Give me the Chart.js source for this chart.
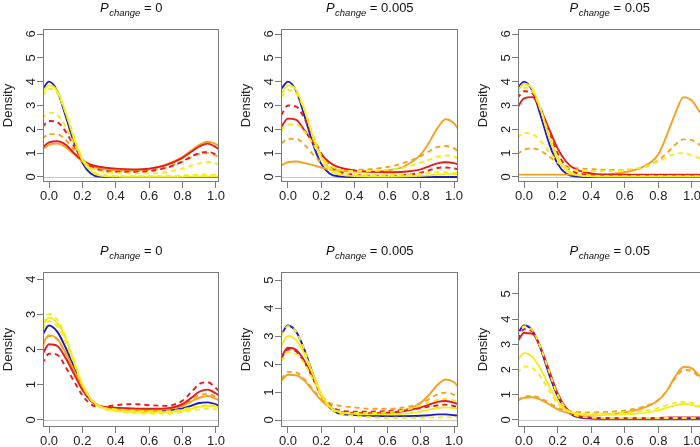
<!DOCTYPE html>
<html lang="en">
<head>
<meta charset="UTF-8">
<title>Density by P change</title>
<script src="https://cdn.jsdelivr.net/npm/chart.js"></script>
<style>
    body {
        margin: 0;
        width: 700px;
        height: 447px;
        overflow: hidden;
        position: relative;
        background: #fff;
    }
    canvas.panel {
        position: absolute;
    }
</style>
</head>
<body>

<canvas id="c1" class="panel"></canvas>
<canvas id="c2" class="panel"></canvas>
<canvas id="c3" class="panel"></canvas>
<canvas id="c4" class="panel"></canvas>
<canvas id="c5" class="panel"></canvas>
<canvas id="c6" class="panel"></canvas>

<script>
// shared x grid of the density curves
const xs = [-0.04, 0, 0.05, 0.1, 0.15, 0.2, 0.25, 0.3, 0.4, 0.5, 0.6, 0.7, 0.8, 0.85, 0.9, 0.95, 1.0, 1.04, 1.08];
const xTicks = [0, 0.2, 0.4, 0.6, 0.8, 1.0];
const pChange = ['0', '0.005', '0.05', '0', '0.005', '0.05'];

// top row, P = 0
const p1Blue        = [3.65, 4.0, 3.6, 2.55, 1.45, 0.6, 0.15, 0.02, 0, 0, 0, 0, 0, 0, 0, 0, 0, 0, 0];
const p1Yellow      = [3.55, 3.85, 3.6, 2.7, 1.6, 0.7, 0.25, 0.07, 0.02, 0.01, 0.01, 0.01, 0.01, 0.02, 0.02, 0.02, 0.02, 0.02, 0.02];
const p1YellowDash  = [3.4, 3.7, 3.5, 2.7, 1.7, 0.8, 0.3, 0.12, 0.05, 0.03, 0.03, 0.04, 0.06, 0.08, 0.1, 0.1, 0.09, 0.07, 0.05];
const p1YellowDash2 = [2.45, 2.7, 2.6, 2.1, 1.4, 0.75, 0.4, 0.25, 0.17, 0.15, 0.15, 0.2, 0.35, 0.47, 0.57, 0.62, 0.57, 0.48, 0.4];
const p1Orange      = [1.15, 1.35, 1.4, 1.25, 0.95, 0.65, 0.45, 0.36, 0.28, 0.27, 0.33, 0.52, 0.85, 1.1, 1.35, 1.48, 1.38, 1.15, 0.95];
const p1OrangeDash  = [1.6, 1.8, 1.8, 1.55, 1.15, 0.72, 0.48, 0.35, 0.27, 0.24, 0.28, 0.4, 0.65, 0.82, 0.97, 1.0, 0.9, 0.75, 0.6];
const p1Red         = [1.22, 1.45, 1.5, 1.35, 1.0, 0.7, 0.52, 0.43, 0.35, 0.32, 0.35, 0.5, 0.8, 1.05, 1.28, 1.4, 1.25, 1.05, 0.85];
const p1RedDash     = [2.1, 2.35, 2.3, 1.9, 1.3, 0.75, 0.45, 0.3, 0.22, 0.22, 0.25, 0.38, 0.65, 0.85, 1.0, 1.05, 0.95, 0.8, 0.65];

// top row, P = 0.005
const p2Blue        = [3.7, 4.0, 3.6, 2.55, 1.4, 0.55, 0.15, 0.03, 0, 0, 0, 0, 0, 0, 0, 0, 0, 0, 0];
const p2Yellow      = [3.5, 3.85, 3.65, 2.8, 1.7, 0.8, 0.3, 0.12, 0.04, 0.02, 0.02, 0.03, 0.05, 0.07, 0.1, 0.12, 0.12, 0.1, 0.08];
const p2YellowDash  = [3.35, 3.65, 3.5, 2.8, 1.8, 0.9, 0.42, 0.22, 0.12, 0.08, 0.08, 0.1, 0.14, 0.18, 0.2, 0.2, 0.17, 0.14, 0.1];
const p2YellowDash2 = [1.95, 2.2, 2.2, 1.9, 1.4, 0.85, 0.5, 0.33, 0.25, 0.25, 0.3, 0.4, 0.6, 0.72, 0.85, 0.9, 0.85, 0.72, 0.6];
const p2Orange      = [0.5, 0.62, 0.65, 0.58, 0.5, 0.4, 0.32, 0.27, 0.23, 0.22, 0.27, 0.45, 0.95, 1.45, 2.05, 2.42, 2.25, 1.85, 1.5];
const p2OrangeDash  = [1.4, 1.6, 1.6, 1.35, 0.95, 0.62, 0.42, 0.33, 0.3, 0.33, 0.42, 0.6, 0.88, 1.08, 1.25, 1.3, 1.2, 1.0, 0.85];
const p2Red         = [2.1, 2.45, 2.4, 1.95, 1.45, 0.95, 0.62, 0.42, 0.28, 0.22, 0.2, 0.22, 0.32, 0.45, 0.57, 0.62, 0.58, 0.5, 0.4];
const p2RedDash     = [2.6, 3.0, 2.95, 2.45, 1.7, 1.0, 0.5, 0.25, 0.1, 0.05, 0.05, 0.08, 0.18, 0.28, 0.38, 0.4, 0.36, 0.3, 0.25];

// top row, P = 0.05
const p3Blue        = [3.7, 4.0, 3.6, 2.55, 1.4, 0.55, 0.15, 0.03, 0, 0, 0, 0, 0, 0, 0, 0, 0, 0, 0];
const p3Yellow      = [3.6, 3.9, 3.7, 2.8, 1.65, 0.75, 0.28, 0.1, 0.03, 0.02, 0.02, 0.02, 0.02, 0.02, 0.02, 0.02, 0.02, 0.02, 0.02];
const p3YellowDash  = [3.45, 3.75, 3.6, 2.8, 1.75, 0.85, 0.35, 0.15, 0.06, 0.04, 0.04, 0.04, 0.04, 0.04, 0.04, 0.04, 0.04, 0.04, 0.04];
const p3YellowDash2 = [1.65, 1.85, 1.8, 1.5, 1.05, 0.65, 0.4, 0.3, 0.25, 0.25, 0.3, 0.4, 0.65, 0.82, 0.97, 1.0, 0.9, 0.8, 0.68];
const p3Orange      = [0.1, 0.1, 0.1, 0.1, 0.1, 0.1, 0.1, 0.1, 0.1, 0.12, 0.2, 0.4, 0.95, 1.75, 2.65, 3.35, 3.2, 2.8, 2.4];
const p3OrangeDash  = [0.95, 1.15, 1.2, 1.1, 0.85, 0.6, 0.45, 0.38, 0.33, 0.3, 0.3, 0.38, 0.7, 1.0, 1.35, 1.58, 1.55, 1.38, 1.2];
const p3Red         = [2.9, 3.3, 3.35, 2.8, 2.0, 1.2, 0.65, 0.35, 0.15, 0.1, 0.1, 0.1, 0.1, 0.1, 0.1, 0.1, 0.1, 0.1, 0.1];
const p3RedDash     = [3.3, 3.6, 3.5, 2.85, 1.9, 1.0, 0.45, 0.2, 0.08, 0.05, 0.04, 0.04, 0.04, 0.04, 0.04, 0.04, 0.04, 0.04, 0.04];

// bottom row, P = 0
const p4Blue        = [2.4, 2.68, 2.5, 2.05, 1.5, 0.95, 0.58, 0.4, 0.3, 0.27, 0.26, 0.27, 0.33, 0.4, 0.48, 0.5, 0.44, 0.36, 0.3];
const p4Yellow      = [2.65, 2.9, 2.75, 2.3, 1.65, 1.0, 0.6, 0.4, 0.27, 0.23, 0.22, 0.22, 0.27, 0.32, 0.37, 0.4, 0.37, 0.32, 0.27];
const p4YellowDash  = [2.75, 3.0, 2.85, 2.35, 1.7, 1.02, 0.6, 0.38, 0.25, 0.2, 0.18, 0.18, 0.22, 0.26, 0.3, 0.32, 0.3, 0.27, 0.23];
const p4YellowDash2 = [2.55, 2.8, 2.65, 2.2, 1.6, 0.98, 0.58, 0.38, 0.3, 0.26, 0.25, 0.25, 0.3, 0.35, 0.4, 0.42, 0.4, 0.35, 0.3];
const p4Orange      = [2.15, 2.4, 2.3, 1.9, 1.4, 0.9, 0.56, 0.4, 0.3, 0.28, 0.28, 0.3, 0.4, 0.52, 0.63, 0.68, 0.6, 0.5, 0.42];
const p4OrangeDash  = [2.1, 2.38, 2.28, 1.88, 1.38, 0.88, 0.55, 0.4, 0.33, 0.3, 0.3, 0.32, 0.45, 0.58, 0.7, 0.74, 0.66, 0.55, 0.45];
const p4Red         = [1.85, 2.15, 2.1, 1.75, 1.3, 0.85, 0.55, 0.4, 0.35, 0.33, 0.32, 0.33, 0.45, 0.62, 0.8, 0.86, 0.75, 0.62, 0.5];
const p4RedDash     = [1.6, 1.88, 1.85, 1.5, 1.1, 0.7, 0.45, 0.36, 0.42, 0.45, 0.42, 0.4, 0.55, 0.78, 1.02, 1.07, 0.9, 0.72, 0.58];

// bottom row, P = 0.005
const p5Blue        = [3.05, 3.38, 3.15, 2.5, 1.65, 0.9, 0.45, 0.25, 0.18, 0.15, 0.14, 0.14, 0.15, 0.17, 0.2, 0.2, 0.17, 0.15, 0.12];
const p5Yellow      = [2.65, 3.0, 2.85, 2.35, 1.65, 0.95, 0.5, 0.3, 0.22, 0.2, 0.2, 0.22, 0.3, 0.37, 0.43, 0.45, 0.42, 0.36, 0.3];
const p5YellowDash  = [2.1, 2.42, 2.35, 2.0, 1.45, 0.88, 0.5, 0.32, 0.25, 0.25, 0.28, 0.35, 0.52, 0.63, 0.72, 0.75, 0.7, 0.6, 0.5];
const p5YellowDash2 = [3.0, 3.35, 3.15, 2.5, 1.65, 0.9, 0.45, 0.25, 0.15, 0.1, 0.08, 0.08, 0.08, 0.09, 0.1, 0.1, 0.09, 0.08, 0.07];
const p5Orange      = [1.4, 1.62, 1.6, 1.4, 1.05, 0.7, 0.45, 0.32, 0.25, 0.23, 0.25, 0.35, 0.62, 0.9, 1.25, 1.45, 1.35, 1.08, 0.85];
const p5OrangeDash  = [1.45, 1.72, 1.7, 1.45, 1.1, 0.75, 0.6, 0.52, 0.45, 0.4, 0.4, 0.45, 0.6, 0.75, 0.92, 0.98, 0.9, 0.75, 0.6];
const p5Red         = [2.25, 2.58, 2.5, 2.1, 1.5, 0.88, 0.5, 0.3, 0.24, 0.24, 0.26, 0.32, 0.45, 0.55, 0.65, 0.68, 0.62, 0.52, 0.42];
const p5RedDash     = [2.2, 2.52, 2.45, 2.05, 1.5, 0.92, 0.55, 0.36, 0.3, 0.3, 0.32, 0.36, 0.42, 0.48, 0.52, 0.55, 0.5, 0.42, 0.35];

// bottom row, P = 0.05
const p6Blue        = [3.4, 3.75, 3.55, 2.8, 1.8, 0.95, 0.4, 0.15, 0.06, 0.05, 0.05, 0.05, 0.05, 0.05, 0.05, 0.05, 0.05, 0.05, 0.05];
const p6Yellow      = [2.35, 2.65, 2.5, 2.0, 1.35, 0.75, 0.4, 0.25, 0.2, 0.2, 0.22, 0.27, 0.38, 0.48, 0.58, 0.63, 0.6, 0.52, 0.45];
const p6YellowDash  = [3.35, 3.72, 3.55, 2.85, 1.9, 1.0, 0.45, 0.2, 0.1, 0.08, 0.08, 0.08, 0.08, 0.08, 0.08, 0.08, 0.08, 0.08, 0.08];
const p6YellowDash2 = [1.85, 2.12, 2.05, 1.7, 1.15, 0.65, 0.38, 0.28, 0.25, 0.25, 0.28, 0.35, 0.48, 0.58, 0.68, 0.72, 0.68, 0.58, 0.48];
const p6Orange      = [0.75, 0.88, 0.9, 0.8, 0.62, 0.42, 0.3, 0.22, 0.2, 0.22, 0.3, 0.45, 0.78, 1.15, 1.72, 2.1, 2.05, 1.78, 1.5];
const p6OrangeDash  = [0.78, 0.92, 0.95, 0.85, 0.68, 0.48, 0.38, 0.32, 0.3, 0.32, 0.38, 0.5, 0.8, 1.15, 1.65, 1.98, 1.95, 1.7, 1.45];
const p6Red         = [3.1, 3.45, 3.42, 2.85, 1.95, 1.05, 0.48, 0.2, 0.1, 0.08, 0.07, 0.07, 0.08, 0.09, 0.1, 0.1, 0.1, 0.1, 0.1];
const p6RedDash     = [3.2, 3.6, 3.5, 2.85, 1.9, 1.0, 0.45, 0.18, 0.08, 0.06, 0.05, 0.05, 0.05, 0.06, 0.06, 0.06, 0.06, 0.06, 0.06];

const panelSeries = [
    [p1YellowDash, p1Yellow, p1YellowDash2, p1Red, p1RedDash, p1Orange, p1OrangeDash, p1Blue],
    [p2YellowDash, p2Yellow, p2YellowDash2, p2Red, p2RedDash, p2Orange, p2OrangeDash, p2Blue],
    [p3YellowDash, p3Yellow, p3YellowDash2, p3Red, p3RedDash, p3Orange, p3OrangeDash, p3Blue],
    [p4YellowDash, p4Yellow, p4YellowDash2, p4Red, p4RedDash, p4Orange, p4OrangeDash, p4Blue],
    [p5YellowDash, p5Yellow, p5YellowDash2, p5Red, p5RedDash, p5Orange, p5OrangeDash, p5Blue],
    [p6YellowDash, p6Yellow, p6YellowDash2, p6Red, p6RedDash, p6Orange, p6OrangeDash, p6Blue]
];

// line styles, same order as the series above
const lineColors = ['#f4ec1c', '#f4ec1c', '#f4ec1c', '#e61b1b', '#e61b1b', '#f5a222', '#f5a222', '#1c1cc4'];
const lineDashed = [true, false, true, false, true, false, true, false];

// plot boxes in page pixels, and the axis ranges of each panel
const boxes = [
    { left: 43,  right: 219, top: 29,  bottom: 182, xmin: -0.036, xmax: 1.018, ymin: -0.21, ymax: 6.21 },
    { left: 281, right: 458, top: 29,  bottom: 182, xmin: -0.042, xmax: 1.024, ymin: -0.21, ymax: 6.21 },
    { left: 518, right: 701, top: 29,  bottom: 182, xmin: -0.036, xmax: 1.054, ymin: -0.21, ymax: 6.21 },
    { left: 43,  right: 219, top: 272, bottom: 427, xmin: -0.036, xmax: 1.018, ymin: -0.2,  ymax: 4.2 },
    { left: 281, right: 458, top: 272, bottom: 427, xmin: -0.042, xmax: 1.024, ymin: -0.25, ymax: 5.29 },
    { left: 518, right: 701, top: 272, bottom: 427, xmin: -0.036, xmax: 1.054, ymin: -0.28, ymax: 5.87 }
];

const FONT = '"Liberation Sans", Arial, sans-serif';
const PAD_LEFT = 45, PAD_TOP = 30, PAD_RIGHT = 6, PAD_BOTTOM = 24;

// box, zero line and the "P_change = ..." title
const framePlugin = {
    id: 'frame',
    beforeDatasetsDraw(chart) {
        const { ctx, chartArea, scales } = chart;
        const y0 = Math.round(scales.y.getPixelForValue(0)) + 0.5;
        ctx.save();
        ctx.strokeStyle = '#c8c8c8';
        ctx.lineWidth = 1;
        ctx.beginPath();
        ctx.moveTo(chartArea.left, y0);
        ctx.lineTo(chartArea.right, y0);
        ctx.stroke();
        ctx.restore();
    },
    afterDraw(chart, args, opts) {
        const { ctx, chartArea } = chart;
        ctx.save();
        ctx.strokeStyle = '#7a7a7a';
        ctx.lineWidth = 1;
        ctx.strokeRect(chartArea.left + 0.5, chartArea.top + 0.5,
            chartArea.right - chartArea.left - 1, chartArea.bottom - chartArea.top - 1);

        const main = '13px ' + FONT;
        const italic = 'italic 13px ' + FONT;
        const sub = 'italic 9.5px ' + FONT;
        const rest = ' = ' + opts.value;
        ctx.font = italic; const wP = ctx.measureText('P').width;
        ctx.font = sub; const wS = ctx.measureText('change').width;
        ctx.font = main; const wR = ctx.measureText(rest).width;
        let x = (chartArea.left + chartArea.right) / 2 - (wP + wS + wR) / 2;
        const base = chartArea.top - 17;
        ctx.fillStyle = '#111';
        ctx.textBaseline = 'alphabetic';
        ctx.textAlign = 'left';
        ctx.font = italic; ctx.fillText('P', x, base); x += wP + 0.5;
        ctx.font = sub; ctx.fillText('change', x, base + 3.5); x += wS;
        ctx.font = main; ctx.fillText(rest, x, base);
        ctx.restore();
    }
};

function points(vals) {
    return xs.map((x, i) => ({ x: x, y: vals[i] }));
}

boxes.forEach((b, p) => {
    const canvas = document.getElementById('c' + (p + 1));
    const w = (b.right - b.left) + PAD_LEFT + PAD_RIGHT;
    const h = (b.bottom - b.top) + PAD_TOP + PAD_BOTTOM;
    canvas.width = w;
    canvas.height = h;
    canvas.style.left = (b.left - PAD_LEFT) + 'px';
    canvas.style.top = (b.top - PAD_TOP) + 'px';
    canvas.style.width = w + 'px';
    canvas.style.height = h + 'px';

    const datasets = panelSeries[p].map((vals, i) => ({
        data: points(vals),
        borderColor: lineColors[i],
        borderWidth: 1.9,
        borderDash: lineDashed[i] ? [5, 4] : [],
        pointRadius: 0,
        fill: false,
        cubicInterpolationMode: 'monotone'
    }));

    new Chart(canvas, {
        type: 'line',
        data: { datasets: datasets },
        options: {
            responsive: false,
            animation: false,
            devicePixelRatio: 1,
            layout: { padding: { left: 0, top: PAD_TOP, right: PAD_RIGHT, bottom: 2 } },
            plugins: {
                legend: { display: false },
                tooltip: { enabled: false },
                frame: { value: pChange[p] }
            },
            scales: {
                x: {
                    type: 'linear',
                    min: b.xmin,
                    max: b.xmax,
                    afterBuildTicks: (scale) => { scale.ticks = xTicks.map(v => ({ value: v })); },
                    afterFit: (scale) => {
                        scale.height = PAD_BOTTOM - 2;
                        scale.paddingLeft = 0;
                        scale.paddingRight = 0;
                    },
                    ticks: {
                        color: '#222',
                        font: { family: FONT, size: 13 },
                        padding: 1,
                        maxRotation: 0,
                        callback: (v) => Number(v).toFixed(1)
                    },
                    grid: { drawOnChartArea: false, drawTicks: true, tickLength: 6, color: '#7a7a7a' },
                    border: { display: false }
                },
                y: {
                    type: 'linear',
                    min: b.ymin,
                    max: b.ymax,
                    afterBuildTicks: (scale) => {
                        const top = Math.floor(b.ymax);
                        const t = [];
                        for (let v = 0; v <= top; v++) t.push({ value: v });
                        scale.ticks = t;
                    },
                    afterFit: (scale) => {
                        scale.width = PAD_LEFT;
                        scale.paddingTop = 0;
                        scale.paddingBottom = 0;
                    },
                    ticks: {
                        color: '#222',
                        font: { family: FONT, size: 13 },
                        padding: 2,
                        minRotation: 90,
                        maxRotation: 90,
                        crossAlign: 'center',
                        callback: (v) => String(v)
                    },
                    grid: { drawOnChartArea: false, drawTicks: true, tickLength: 6, color: '#7a7a7a' },
                    border: { display: false },
                    title: {
                        display: true,
                        text: 'Density',
                        color: '#222',
                        font: { family: FONT, size: 13 },
                        padding: { top: 3, bottom: 0 }
                    }
                }
            }
        },
        plugins: [framePlugin]
    });
});
</script>

</body>
</html>
